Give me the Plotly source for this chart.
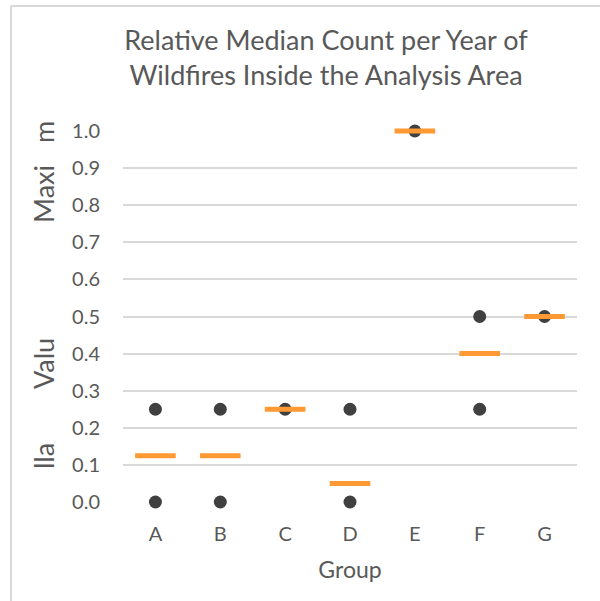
import plotly.graph_objects as go

# Groups along the x axis
groups = ["A", "B", "C", "D", "E", "F", "G"]

# Individual observations (relative to the maximum) per group
point_groups = ["A", "A", "B", "B", "C", "D", "D", "E", "F", "F", "G"]
point_values = [0.25, 0.0, 0.25, 0.0, 0.25, 0.25, 0.0, 1.0, 0.5, 0.25, 0.5]

# Median per group
median_values = [0.125, 0.125, 0.25, 0.05, 1.0, 0.4, 0.5]

y_ticks = [0.0, 0.1, 0.2, 0.3, 0.4, 0.5, 0.6, 0.7, 0.8, 0.9, 1.0]

FONT = "Lato, Calibri, Carlito, sans-serif"
TEXT = "#595959"

fig = go.Figure()

fig.add_trace(go.Scatter(
    x=point_groups, y=point_values, mode="markers",
    marker=dict(symbol="circle", size=13, color="#404040"),
    cliponaxis=False, showlegend=False, name="Observed",
))

fig.add_trace(go.Scatter(
    x=groups, y=median_values, mode="markers",
    marker=dict(symbol="line-ew", size=29, color="#FF9933",
                line=dict(color="#FF9933", width=5)),
    cliponaxis=False, showlegend=False, name="Median",
))

# Light frame around the chart area
frame = dict(type="line", xref="paper", yref="paper",
             line=dict(color="#D9D9D9", width=2), layer="below")
fig.add_shape(**frame, x0=(11 - 123) / 454, x1=2.0, y0=(502 - 6) / 371, y1=(502 - 6) / 371)
fig.add_shape(**frame, x0=(11 - 123) / 454, x1=(11 - 123) / 454, y0=-1.0, y1=(502 - 6) / 371)

# Vertical axis title pieces
for txt, ypix in [("lla", 456), ("Valu", 364), ("Maxi", 194), ("m", 132)]:
    fig.add_annotation(
        text=txt, xref="paper", yref="paper",
        x=(43 - 123) / 454, y=(502 - ypix) / 371,
        showarrow=False, textangle=-90,
        font=dict(family=FONT, size=27, color=TEXT),
        xanchor="center", yanchor="middle",
    )

fig.update_layout(
    width=600, height=601,
    margin=dict(l=123, r=23, t=131, b=99),
    paper_bgcolor="white", plot_bgcolor="white",
    font=dict(family=FONT, color=TEXT),
    title=dict(
        text="Relative Median Count per Year of<br>Wildfires Inside the Analysis Area",
        x=326 / 600, xanchor="center", y=1 - 50 / 601, yanchor="middle",
        font=dict(family=FONT, size=27, color=TEXT),
    ),
    xaxis=dict(
        type="category", categoryorder="array", categoryarray=groups,
        range=[-0.5, 6.5], showgrid=False, zeroline=False,
        showline=False, ticks="", ticklabelstandoff=18,
        tickfont=dict(family=FONT, size=20, color=TEXT),
        title=dict(text="Group", font=dict(family=FONT, size=23, color=TEXT), standoff=17),
    ),
    yaxis=dict(
        range=[0, 1.0], tickvals=y_ticks, tickformat=".1f",
        showgrid=True, gridcolor="#D9D9D9", gridwidth=1.5,
        zeroline=False, showline=False, ticks="", ticklabelstandoff=22,
        tickfont=dict(family=FONT, size=20, color=TEXT),
    ),
)

fig.write_html("out.html")
